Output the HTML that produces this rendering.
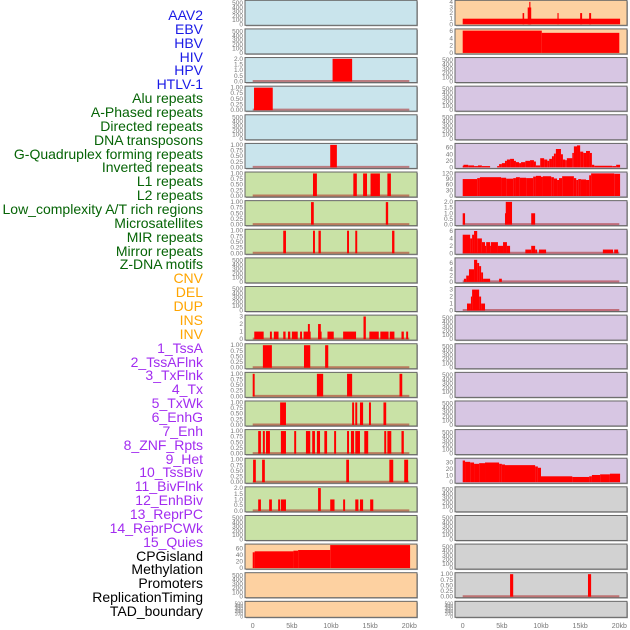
<!DOCTYPE html>
<html><head><meta charset="utf-8"><style>
body{margin:0;background:#fff;width:630px;height:630px;overflow:hidden;font-family:"Liberation Sans",sans-serif}
#labels{position:absolute;left:0;top:0;width:203px;height:630px}
#labels div{position:absolute;right:0;font-size:14px;line-height:14px;white-space:nowrap;transform:translateY(-7px)}
.b{color:#1a1ae6}.g{color:#066406}.o{color:#ffa500}.p{color:#a22cf0}.k{color:#000}
svg{position:absolute;left:0;top:0}
</style></head><body>
<div id="labels"></div>
<svg id="chart" width="630" height="630"></svg>
<script>
const labelNames=["AAV2","EBV","HBV","HIV","HPV","HTLV-1","Alu repeats","A-Phased repeats","Directed repeats","DNA transposons","G-Quadruplex forming repeats","Inverted repeats","L1 repeats","L2 repeats","Low_complexity A/T rich regions","Microsatellites","MIR repeats","Mirror repeats","Z-DNA motifs","CNV","DEL","DUP","INS","INV","1_TssA","2_TssAFlnk","3_TxFlnk","4_Tx","5_TxWk","6_EnhG","7_Enh","8_ZNF_Rpts","9_Het","10_TssBiv","11_BivFlnk","12_EnhBiv","13_ReprPC","14_ReprPCWk","15_Quies","CPGisland","Methylation","Promoters","ReplicationTiming","TAD_boundary"];
const labelClasses=["b","b","b","b","b","b","g","g","g","g","g","g","g","g","g","g","g","g","g","o","o","o","o","o","p","p","p","p","p","p","p","p","p","p","p","p","p","p","p","k","k","k","k","k"];
const xTickLabels=["0","5kb","10kb","15kb","20kb"];
const xTickValues=[0,5,10,15,20];
const lHIV=[[10.2,12.7,2]];
const lRow3=[[0.17,2.56,1]];
const lRow5=[[9.9,10.75,1]];
const lL1=[[7.7,8.2,1],[12.85,13.3,1],[14.1,14.6,1],[15.05,16.25,1],[17.2,17.65,1]];
const lRow7=[[7.45,7.8,1],[17.0,17.3,1]];
const lRow8=[[3.9,4.25,1],[7.7,7.95,1],[8.4,8.7,1],[12.05,12.3,1],[13.1,13.35,1],[17.8,18.1,1]];
const lINS=[[0.2,1.4,1],[2.2,2.45,1],[2.7,3.3,1],[3.9,4.2,1],[4.5,4.8,1],[5.0,5.75,1],[6.05,6.3,1],[6.5,7.4,1],[7.05,7.3,2],[8.35,8.8,1],[8.35,8.7,2],[9.55,10.35,1],[11.55,13.2,1],[14.15,14.45,3],[14.9,16.1,1],[16.3,17.35,1],[17.5,18.1,1],[19.0,19.3,1],[19.6,19.85,1]];
const lRow12=[[1.3,2.45,1],[6.55,7.35,1],[9.25,9.65,1]];
const lRow13=[[0,0.25,1],[8.2,9.0,1],[12.05,12.7,1],[18.75,19.1,1]];
const lRow14=[[3.5,4.25,1],[12.7,12.95,1],[13.1,13.35,1],[13.7,14.1,1],[14.85,15.1,1],[16.7,17.05,1]];
const lRow15=[[0.7,1.05,1],[1.3,1.55,1],[1.7,2.2,1],[3.6,4.25,1],[5.3,5.55,1],[6.8,7.35,1],[7.6,7.95,1],[8.2,8.6,1],[9.15,9.5,1],[10.4,10.65,1],[12.05,12.3,1],[12.55,12.95,1],[13.1,13.7,1],[14.25,14.75,1],[16.8,17.05,1],[17.2,17.7,1],[19.0,19.3,1]];
const lRow16=[[0.05,0.4,1],[1.2,1.55,1],[11.95,12.3,1],[17.45,17.95,1],[19.35,19.85,1]];
const lRow17=[[0.7,1.05,1],[2.1,2.45,1],[3.25,3.5,1],[3.6,4.25,1],[8.35,8.7,2],[9.9,10.45,1],[11.55,11.8,1],[13.1,13.5,1],[13.7,14.1,1],[15.0,15.4,1]];
const lCPG=[[0,0.25,48],[0.25,5.2,51],[5.2,5.8,53],[5.8,9.9,55],[9.9,20.1,70]];
const rRow0=[[0,20.1,1],[7.65,7.85,2],[8.3,8.75,3],[8.5,8.65,4],[12.1,12.25,2],[15.0,15.25,2],[16.15,16.4,2]];
const rRow1=[[0,10.1,6.1],[10.1,20.0,5.5]];
const rRow7=[[0,0.3,1],[5.4,5.5,1],[5.5,6.3,2],[8.75,9.25,1]];
const rRow10=[[0.55,1.05,1],[1.05,1.2,2],[1.2,2.1,3],[2.1,2.35,2],[2.35,2.85,1]];
const rRow20=[[6.05,6.45,1],[16.0,16.4,1]];
const rG4Bounds=[0,0.1,0.7,1.45,1.95,2.45,3.5,4.4,4.65,5.0,5.4,5.65,6.05,6.55,6.8,7.2,7.45,8.0,8.6,9.1,9.35,9.9,10.4,10.8,11.05,11.4,11.65,11.9,12.55,12.8,13.1,13.3,14.0,14.2,14.6,15.0,15.4,15.75,16.25,16.5,16.8,19.1,19.6,20.1];
const rG4Values=[5,8,6,4,6,4,0,4,10,13,20,24,26,20,16,13,16,20,22,18,6,28,24,20,26,34,42,56,40,24,22,28,44,64,67,48,44,50,44,8,5,4,8];
const rInvBounds=[0,1.85,2.2,4.9,5.55,6.45,6.8,7.3,8.1,9.0,9.35,10.0,10.25,11.3,11.65,12.05,12.3,12.7,14.2,14.5,14.75,15.1,15.75,16.15,16.4,19.35,20.1];
const rInvValues=[90,95,100,97,92,95,100,97,95,103,107,102,105,100,93,85,95,105,95,85,90,88,85,110,120,118];
const rR8Bounds=[0,0.95,1.2,1.45,1.85,2.45,2.85,3.0,3.5,3.6,4.5,5.15,5.65,6.05,8.0,8.75,9.25,9.5,9.75,10.65,17.9,19.2,19.35,19.85];
const rR8Values=[5,4,5,6,4,3,2,3,2,3,2,3,2,0,1,2,1,0,1,0,1,0,1];
const rR9Bounds=[0.15,0.45,0.8,1.45,1.85,2.1,2.35,2.6,3.5,4.65,5.0];
const rR9Values=[1,2,4,7,6,5,3,1,0,1];
const rHetBounds=[0,0.3,0.95,1.45,2.1,2.85,4.65,5.0,5.4,9.25,9.6,10.0,14.0,16.15,16.5,17.55,18.8,20.1];
const rHetValues=[33,31,30,28,29,30,28,27,26,24,22,9,8,9,11,12,13];

function steps(b,v){const s=[];for(let i=0;i<v.length;i++){if(v[i]>0)s.push([b[i],b[i+1],v[i]]);}return s;}
const E={top:540,ticks:[0,100,200,300,400,500],lab:["0","100","200","300","400","500"]};
const U={top:1.02,ticks:[0,0.25,0.5,0.75,1],lab:["0.00","0.25","0.50","0.75","1.00"]};
const T2={top:2.02,ticks:[0,0.5,1,1.5,2],lab:["0.0","0.5","1.0","1.5","2.0"]};
const BL="#c9e4ec",GR="#c9e2a6",OR="#fdd1a1",PU="#d7c6e3",GY="#d2d2d2";
const panels=[
 ["L",0,BL,E,null],["L",1,BL,E,null],["L",2,BL,T2,lHIV],["L",3,BL,U,lRow3],["L",4,BL,E,null],["L",5,BL,U,lRow5],
 ["L",6,GR,U,lL1],["L",7,GR,U,lRow7],["L",8,GR,U,lRow8],["L",9,GR,E,null],["L",10,GR,E,null],
 ["L",11,GR,{top:3.05,ticks:[0,1,2,3],lab:["0","1","2","3"]},lINS],
 ["L",12,GR,U,lRow12],["L",13,GR,U,lRow13],["L",14,GR,U,lRow14],["L",15,GR,U,lRow15],["L",16,GR,U,lRow16],
 ["L",17,GR,T2,lRow17],["L",18,GR,E,null],
 ["L",19,OR,{top:70,ticks:[0,20,40,60],lab:["0","20","40","60"]},lCPG,true],["L",20,OR,E,null],["L",21,OR,E,null],
 ["R",0,OR,{top:4.1,ticks:[0,1,2,3,4],lab:["0","1","2","3","4"]},rRow0,true],
 ["R",1,OR,{top:6.3,ticks:[0,2,4,6],lab:["0","2","4","6"]},rRow1,true],
 ["R",2,PU,E,null],["R",3,PU,E,null],["R",4,PU,E,null],
 ["R",5,PU,{top:70,ticks:[0,20,40,60],lab:["0","20","40","60"]},steps(rG4Bounds,rG4Values),true],
 ["R",6,PU,{top:122,ticks:[0,30,60,90,120],lab:["0","30","60","90","120"]},steps(rInvBounds,rInvValues),true],
 ["R",7,PU,T2,rRow7],
 ["R",8,PU,{top:6.2,ticks:[0,2,4,6],lab:["0","2","4","6"]},steps(rR8Bounds,rR8Values)],
 ["R",9,PU,{top:7.3,ticks:[0,2,4,6],lab:["0","2","4","6"]},steps(rR9Bounds,rR9Values)],
 ["R",10,PU,{top:3.3,ticks:[0,1,2,3],lab:["0","1","2","3"]},rRow10],
 ["R",11,PU,E,null],["R",12,PU,E,null],["R",13,PU,E,null],["R",14,PU,E,null],["R",15,PU,E,null],
 ["R",16,PU,{top:35,ticks:[0,10,20,30],lab:["0","10","20","30"]},steps(rHetBounds,rHetValues),true],
 ["R",17,GY,E,null],["R",18,GY,E,null],["R",19,GY,E,null],["R",20,GY,U,rRow20],["R",21,GY,E,null]
];
const NS="http://www.w3.org/2000/svg";
const svg=document.getElementById('chart');
function mk(t,a,p){const e=document.createElementNS(NS,t);for(const k in a)e.setAttribute(k,a[k]);(p||svg).appendChild(e);return e;}
const lab=document.getElementById('labels');
labelNames.forEach((n,i)=>{const d=document.createElement('div');d.className=labelClasses[i];d.style.top=(15+i*13.86)+'px';d.textContent=n;


lab.appendChild(d);});
function xScale(kb,col){const x0=col==="L"?252.7:462.7;return x0+kb/20*156.6;}
panels.forEach(p=>{
 const [col,row,bg,ax,data,noBase]=p;
 const px=col==="L"?245:455, py=row*28.62+0.3, ph=row===21?16:25, pw=172;
 const g=mk('g',{});
 
 
 mk('rect',{x:px+1,y:py+1,width:pw,height:ph,fill:'#aaa'},g);
 mk('rect',{x:px,y:py,width:pw,height:ph,fill:bg,stroke:'#666','stroke-width':1},g);
 const yb=py+ph-1, yh=ph-2;
 const yS=v=>yb-v/ax.top*yh;
 ax.ticks.forEach((t,i)=>{const tx=mk('text',{x:px-2,y:yS(t)+2,'text-anchor':'end','font-size':ph<20?5:6.5,fill:'#777'},g);tx.textContent=ax.lab[i];
 
 });
 if(data){
  if(!noBase){const ln=mk('line',{x1:xScale(0,col),x2:xScale(20,col),y1:yb-0.5,y2:yb-0.5,stroke:'rgba(170,20,20,0.5)','stroke-width':2},g);
  
  }
  data.forEach(s=>{const x1=xScale(s[0],col),x2=xScale(s[1],col);const y=yS(s[2]);
   const r=mk('rect',{x:x1,y:y,width:Math.max(1,x2-x1),height:yb-y,fill:'#ff0000'},g);
   
   });
 }
});
["L","R"].forEach(col=>{xTickValues.forEach((v,i)=>{const t=mk('text',{x:xScale(v,col),y:628,'text-anchor':'middle','font-size':7,fill:'#777'});t.textContent=xTickLabels[i];
 
 });});
</script>
</body></html>
